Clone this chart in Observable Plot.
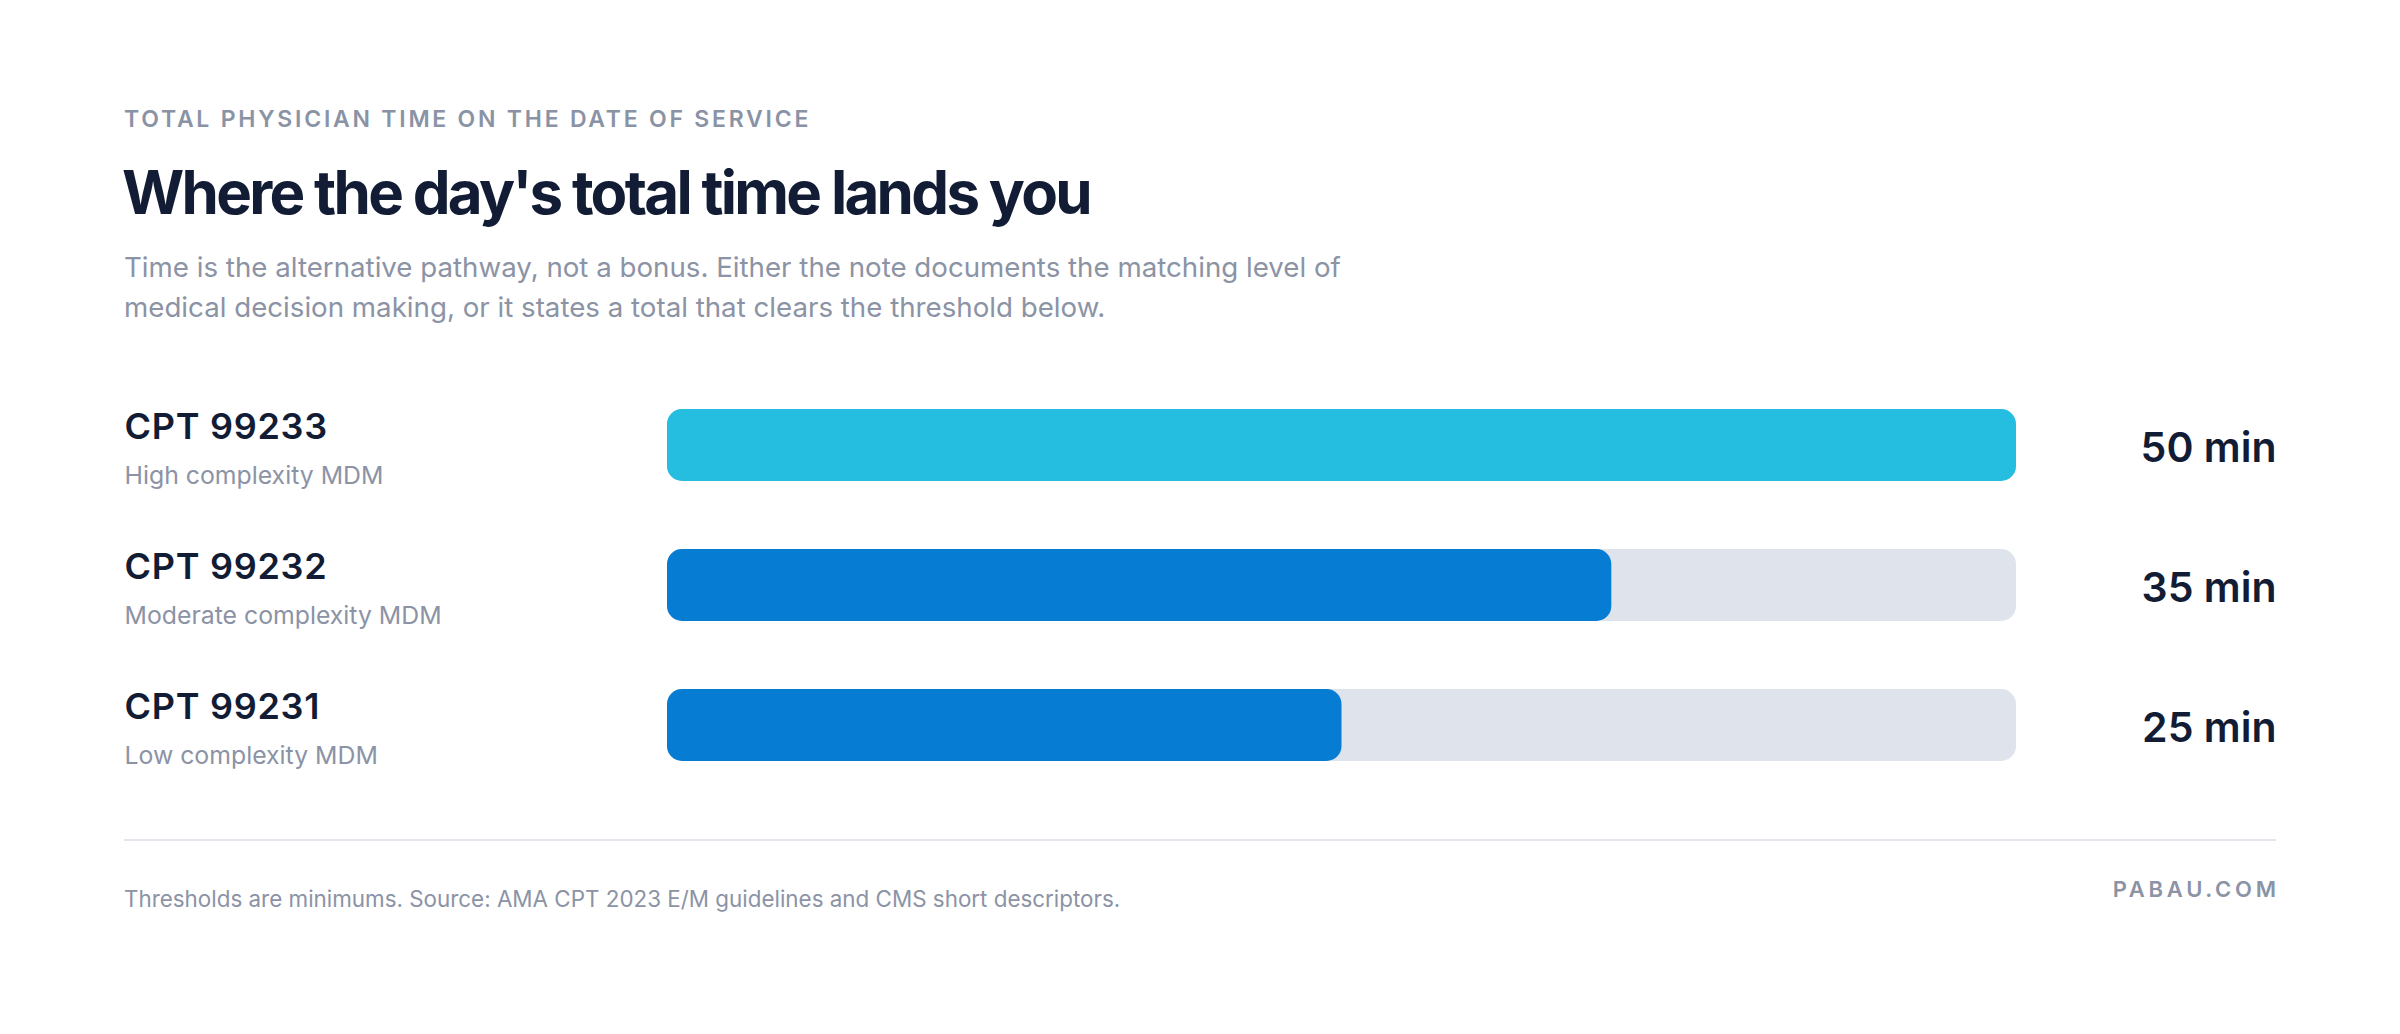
<!DOCTYPE html>
<html><head><meta charset="utf-8">
<script src="https://cdn.jsdelivr.net/npm/d3@7"></script>
<script src="https://cdn.jsdelivr.net/npm/@observablehq/plot@0.6"></script>
<style>
html,body{margin:0;padding:0;background:#fff;}
#page{position:relative;width:2400px;height:1034px;font-family:Inter,sans-serif;overflow:hidden;background:#fff;}
.abs{position:absolute;white-space:nowrap;line-height:1;}
#eyebrow{left:124px;top:108px;font-size:23px;font-weight:600;letter-spacing:0.12em;color:#8a93a5;}
#title{left:122px;top:162px;font-size:60px;font-weight:700;letter-spacing:-0.045em;color:#121c35;}
#subtitle{left:124px;top:247px;font-size:27.7px;line-height:40px;font-weight:400;color:#8b93a5;}
#chart{position:absolute;left:0;top:370px;}
#divider{position:absolute;left:124px;top:839px;width:2152px;height:2px;background:#e4e7ed;}
#footer{left:124px;top:888px;font-size:22.4px;color:#8b93a5;}
#brand{right:124px;top:878px;font-size:22px;font-weight:600;letter-spacing:0.17em;margin-right:-0.17em;color:#8b93a5;}
</style></head><body>
<div id="page">
  <div id="eyebrow" class="abs">TOTAL PHYSICIAN TIME ON THE DATE OF SERVICE</div>
  <div id="title" class="abs">Where the day's total time lands you</div>
  <div id="subtitle" class="abs">Time is the alternative pathway, not a bonus. Either the note documents the matching level of<br>medical decision making, or it states a total that clears the threshold below.</div>
  <div id="chart"></div>
  <div id="divider"></div>
  <div id="footer" class="abs">Thresholds are minimums. Source: AMA CPT 2023 E/M guidelines and CMS short descriptors.</div>
  <div id="brand" class="abs">PABAU.COM</div>
</div>
<script>
const codes = ["CPT 99233", "CPT 99232", "CPT 99231"];
const descriptors = ["High complexity MDM", "Moderate complexity MDM", "Low complexity MDM"];
const minutes = [50, 35, 25];
const unit = "min";

const rows = codes.map((code, i) => ({code, descriptor: descriptors[i], minutes: minutes[i], label: `${minutes[i]} ${unit}`}));
const maxMin = d3.max(minutes);

const ink = "#121c35", muted = "#8b93a5";
const chart = Plot.plot({
  width: 2400,
  height: 430,
  marginLeft: 667,
  marginRight: 384,
  marginTop: 39,
  marginBottom: 39,
  x: {domain: [0, maxMin], axis: null},
  y: {domain: codes, axis: null, paddingInner: 68 / 140, paddingOuter: 0, round: false},
  color: {type: "identity"},
  style: {fontFamily: "Inter, sans-serif", background: "transparent", overflow: "visible"},
  marks: [
    Plot.barX(rows, {y: "code", x1: 0, x2: () => maxMin, fill: "#dfe3ec", rx: 15}),
    Plot.barX(rows, {y: "code", x1: 0, x2: "minutes", fill: d => d.minutes === maxMin ? "#25bde0" : "#067cd3", rx: 15}),
    Plot.text(rows, {y: "code", text: "code", frameAnchor: "left", textAnchor: "start", lineAnchor: "bottom", dx: -543, dy: -7, fontSize: 36, fontWeight: 600, fill: ink, style: {letterSpacing: "0.02em"}}),
    Plot.text(rows, {y: "code", text: "descriptor", frameAnchor: "left", textAnchor: "start", lineAnchor: "bottom", dx: -543, dy: 38, fontSize: 24.8, fontWeight: 400, fill: muted}),
    Plot.text(rows, {y: "code", text: "label", frameAnchor: "right", textAnchor: "end", lineAnchor: "bottom", dx: 260, dy: 16, fontSize: 41, fontWeight: 600, fill: ink})
  ]
});
chart.querySelectorAll("text").forEach(t => { if (t.textContent.startsWith("CPT")) t.style.letterSpacing = "0.02em"; });
document.getElementById("chart").appendChild(chart);
</script>
</body></html>
